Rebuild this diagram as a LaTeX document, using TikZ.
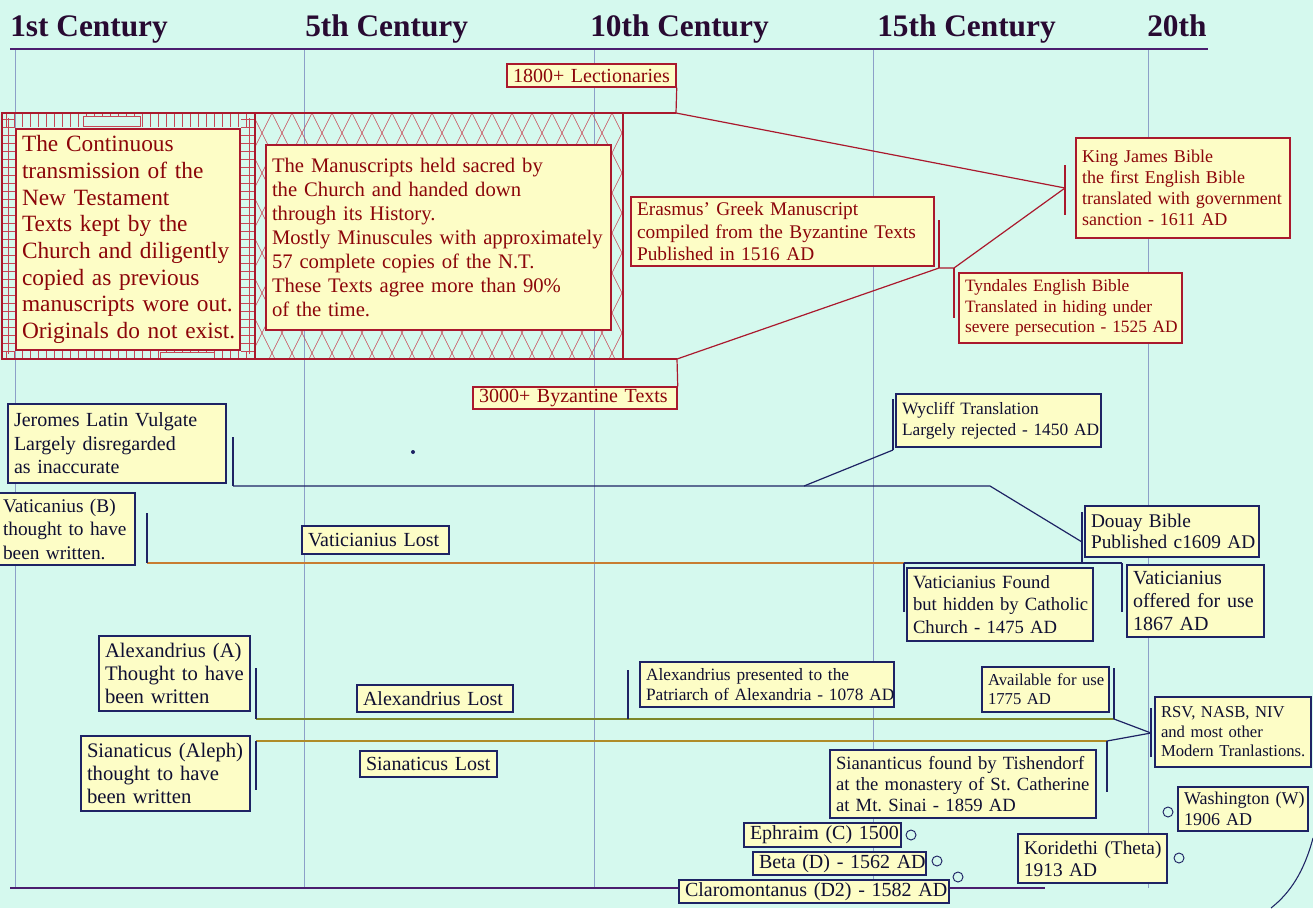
\documentclass[tikz,border=0pt]{standalone}
\usepackage{fontspec}
\setmainfont{Liberation Serif}
\usetikzlibrary{calc}
\frenchspacing
\definecolor{bg}{RGB}{213,249,238}
\definecolor{boxfill}{RGB}{253,253,198}
\definecolor{redln}{RGB}{170,25,45}
\definecolor{redtext}{RGB}{140,5,10}
\definecolor{navy}{RGB}{30,35,100}
\definecolor{bluetext}{RGB}{15,15,50}
\definecolor{hatchc}{RGB}{200,70,85}
\definecolor{gridc}{RGB}{140,160,200}
\definecolor{axisc}{RGB}{75,30,110}
\definecolor{hdrc}{RGB}{40,10,50}
\definecolor{vatc}{RGB}{200,125,50}
\definecolor{alexc}{RGB}{125,135,40}
\definecolor{sinc}{RGB}{175,140,40}
\newcommand\fs[2]{\fontsize{#1}{#2}\selectfont}
\newcommand\bx[7]{%
  \pgfmathsetmacro\bxw{(#5-#3)*0.75}%
  \pgfmathsetmacro\bxh{(#6-#4)*0.75}%
  \pgfmathsetmacro\bxtw{(#5-#3)*0.75-9}%
  \node[#2, minimum width=\bxw pt, minimum height=\bxh pt, text width=\bxtw pt] (#1) at ({(#3+#5)/2},{(#4+#6)/2}) {#7};%
}
\tikzset{
  rbox/.style={draw=redln, fill=boxfill, text=redtext, line width=1.1pt, align=left, inner xsep=4.5pt, inner ysep=1pt},
  bbox/.style={draw=navy, fill=boxfill, text=bluetext, line width=1.1pt, align=left, inner xsep=4.5pt, inner ysep=1pt},
  tickln/.style={line width=0.8pt},
  conn/.style={line width=0.9pt},
  hatch/.style={draw=hatchc, line width=0.45pt},
  gridln/.style={draw=gridc, line width=0.5pt},
  axisln/.style={draw=axisc, line width=1.6pt},
  hdr/.style={font=\bfseries\fs{23.5}{28}, text=hdrc, anchor=base west, inner sep=0pt},
  ring/.style={draw=navy, line width=0.7pt, circle, minimum size=7.5pt, inner sep=0pt},
}
\begin{document}
\begin{tikzpicture}[x=0.75pt,y=-0.75pt]
\useasboundingbox (0,0) rectangle (1313,908);
\fill[bg] (0,0) rectangle (1313,908);
% grid lines
\foreach \gx in {15,304,594,873,1148} {\draw[gridln] (\gx,49) -- (\gx,888);}
% axes
\draw[axisln] (10,49) -- (1208,49);
\draw[axisln] (10,888) -- (1045,888);
% headers
\node[hdr] (h1) at (10,36) {1st Century};
\node[hdr] (h5) at (305,36) {5th Century};
\node[hdr] (h10) at (590,36) {10th Century};
\node[hdr] (h15) at (877,36) {15th Century};
\node[hdr] (h20) at (1147,36) {20th};
% hatched region
\begin{scope}
\clip (255,113) rectangle (623,359);
\foreach \i in {0,...,42} {
  \draw[hatch] ({132+20*\i},113) -- ++(123,246);
  \draw[hatch] ({132+20*\i},113) -- ++(-123,246);
}
\end{scope}
\foreach \x in {6,14,...,250} {\draw[hatch] (\x,113) -- (\x,127); \draw[hatch] (\x,351) -- (\x,359);}
\foreach \y in {119,127,...,351} {\draw[hatch] (2,\y) -- (15,\y); \draw[hatch] (241,\y) -- (255,\y);}
\fill[bg] (83,116) rectangle (140,126);
\draw[hatch] (83,116) rectangle (140,126);
\fill[bg] (160,352) rectangle (214,358);
\draw[hatch] (160,352) rectangle (214,358);
\draw[hatch] (8,118) -- (8,354);
\draw[hatch] (249,118) -- (249,354);
\draw[redln, line width=0.9pt] (2,113) rectangle (623,359);
\draw[redln, line width=0.9pt] (255,113) -- (255,359);
% coordinates
\coordinate (lectc) at (676,113);
\coordinate (hrtop) at (623,113);
\coordinate (kjt1) at (1065,165);
\coordinate (kjt2) at (1065,215);
\coordinate (kjm) at (1065,188);
\coordinate (ert1) at (939,220);
\coordinate (ert2) at (939,268);
\coordinate (tyt1) at (954,268);
\coordinate (tyt2) at (954,318);
\coordinate (byzc) at (677,359);
\coordinate (hrbot) at (623,359);
\coordinate (jt1) at (233,437);
\coordinate (jt2) at (233,486);
\coordinate (jbend) at (990,486);
\coordinate (dm) at (1082,542);
\coordinate (dt1) at (1082,512);
\coordinate (dt2) at (1082,562);
\coordinate (wj) at (804,486);
\coordinate (wt1) at (893,399);
\coordinate (wt2) at (893,450);
\coordinate (vt1) at (147,513);
\coordinate (vt2) at (147,563);
\coordinate (vf) at (904,563);
\coordinate (vf2) at (904,612);
\coordinate (vo) at (1122,563);
\coordinate (vo2) at (1122,612);
\coordinate (at1) at (256,668);
\coordinate (at2) at (256,719);
\coordinate (ap1) at (628,670);
\coordinate (ap2) at (628,719);
\coordinate (av1) at (1114,668);
\coordinate (av2) at (1114,719);
\coordinate (rm) at (1151,733);
\coordinate (rt1) at (1151,708);
\coordinate (rt2) at (1151,757);
\coordinate (st1) at (256,741);
\coordinate (st2) at (256,790);
\coordinate (sf1) at (1107,741);
\coordinate (sf2) at (1107,792);
\coordinate (cv1) at (1313,838);
\coordinate (cv2) at (1271,908);
% red boxes
\bx{lect}{rbox,font=\fs{15}{17}}{507}{64}{676}{87}{\mbox{1800+ Lectionaries}}
\bx{byz}{rbox,font=\fs{15}{17}}{473}{387}{677}{409}{\mbox{3000+ Byzantine Texts}}
\bx{cont}{rbox,font=\fs{17.5}{20}}{16}{129}{240}{350}{\mbox{The Continuous}\\\mbox{transmission of the}\\\mbox{New Testament}\\\mbox{Texts kept by the}\\\mbox{Church and diligently}\\\mbox{copied as previous}\\\mbox{manuscripts wore out.}\\\mbox{Originals do not exist.}}
\bx{manu}{rbox,font=\fs{15.5}{18}}{266}{145}{611}{330}{\mbox{The Manuscripts held sacred by}\\\mbox{the Church and handed down}\\\mbox{through its History.}\\\mbox{Mostly Minuscules with approximately}\\\mbox{57 complete copies of the N.T.}\\\mbox{These Texts agree more than 90\%}\\\mbox{of the time.}}
\bx{eras}{rbox,font=\fs{14.5}{17}}{631}{197}{934}{266}{\mbox{Erasmus' Greek Manuscript}\\\mbox{compiled from the Byzantine Texts}\\\mbox{Published in 1516 AD}}
\bx{tynd}{rbox,font=\fs{13}{15.4}}{959}{273}{1182}{343}{\mbox{Tyndales English Bible}\\\mbox{Translated in hiding under}\\\mbox{severe persecution - 1525 AD}}
\bx{kjb}{rbox,font=\fs{13.5}{15.8}}{1076}{138}{1290}{238}{\mbox{King James Bible}\\\mbox{the first English Bible}\\\mbox{translated with government}\\\mbox{sanction - 1611 AD}}
% red connectors
\draw[conn, redln] (lect.south east) -- (lectc) -- (kjm);
\draw[conn, redln] (hrtop) -- (lectc);
\draw[conn, redln] (byz.north east) -- (byzc) -- (ert2) -- (tyt1) -- (kjm);
\draw[conn, redln] (hrbot) -- (byzc);
\draw[tickln, redln] (kjt1) -- (kjt2);
\draw[tickln, redln] (ert1) -- (ert2);
\draw[tickln, redln] (tyt1) -- (tyt2);
% blue connectors
\draw[conn, navy] (jt2) -- (jbend) -- (dm);
\draw[conn, navy] (wj) -- (wt2);
\draw[tickln, navy] (jt1) -- (jt2);
\draw[tickln, navy] (wt1) -- (wt2);
\draw[tickln, navy] (dt1) -- (dt2);
\draw[conn, vatc] (vt2) -- (vf);
\draw[conn, navy] (vf) -- (vo);
\draw[tickln, navy] (vt1) -- (vt2);
\draw[tickln, navy] (vf) -- (vf2);
\draw[tickln, navy] (vo) -- (vo2);
\draw[conn, alexc] (at2) -- (av2);
\draw[conn, navy] (av2) -- (rm);
\draw[tickln, navy] (at1) -- (at2);
\draw[tickln, navy] (ap1) -- (ap2);
\draw[tickln, navy] (av1) -- (av2);
\draw[tickln, navy] (rt1) -- (rt2);
\draw[conn, sinc] (st1) -- (sf1);
\draw[conn, navy] (sf1) -- (rm);
\draw[tickln, navy] (st1) -- (st2);
\draw[tickln, navy] (sf1) -- (sf2);
\draw[navy, line width=0.8pt] (cv1) .. controls (1304,872) and (1290,893) .. (cv2);
\node[circle, fill=navy, inner sep=0pt, minimum size=3pt] (dot) at (413,452) {};
% blue boxes
\bx{jer}{bbox,font=\fs{15}{17.6}}{8}{404}{226}{483}{\mbox{Jeromes Latin Vulgate}\\\mbox{Largely disregarded}\\\mbox{as inaccurate}}
\bx{vatb}{bbox,font=\fs{14.5}{17.6},inner xsep=3pt}{-3}{493}{135}{565}{\mbox{Vaticanius (B)}\\\mbox{thought to have}\\\mbox{been written.}}
\bx{vlost}{bbox,font=\fs{15}{17}}{302}{526}{449}{554}{\mbox{Vaticianius Lost}}
\bx{wyc}{bbox,font=\fs{13}{15.8}}{896}{394}{1101}{447}{\mbox{Wycliff Translation}\\\mbox{Largely rejected - 1450 AD}}
\bx{douay}{bbox,font=\fs{14.5}{16}}{1085}{506}{1259}{557}{\mbox{Douay Bible}\\\mbox{Published c1609 AD}}
\bx{vfound}{bbox,font=\fs{14}{17}}{907}{568}{1093}{641}{\mbox{Vaticianius Found}\\\mbox{but hidden by Catholic}\\\mbox{Church - 1475 AD}}
\bx{voffer}{bbox,font=\fs{15}{17}}{1127}{565}{1264}{637}{\mbox{Vaticianius}\\\mbox{offered for use}\\\mbox{1867 AD}}
\bx{alexa}{bbox,font=\fs{15.5}{17}}{99}{636}{250}{711}{\mbox{Alexandrius (A)}\\\mbox{Thought to have}\\\mbox{been written}}
\bx{alost}{bbox,font=\fs{15}{17}}{357}{685}{513}{712}{\mbox{Alexandrius Lost}}
\bx{sina}{bbox,font=\fs{15.5}{17}}{81}{736}{250}{811}{\mbox{Sianaticus (Aleph)}\\\mbox{thought to have}\\\mbox{been written}}
\bx{slost}{bbox,font=\fs{15}{17}}{360}{751}{497}{777}{\mbox{Sianaticus Lost}}
\bx{apres}{bbox,font=\fs{13}{15}}{640}{662}{894}{707}{\mbox{Alexandrius presented to the}\\\mbox{Patriarch of Alexandria - 1078 AD}}
\bx{avail}{bbox,font=\fs{12.5}{14}}{982}{667}{1109}{712}{\mbox{Available for use}\\\mbox{1775 AD}}
\bx{rsv}{bbox,font=\fs{12.5}{14.6}}{1155}{697}{1311}{767}{\mbox{RSV, NASB, NIV}\\\mbox{and most other}\\\mbox{Modern Tranlastions.}}
\bx{sfound}{bbox,font=\fs{14}{15.8}}{830}{750}{1096}{818}{\mbox{Siananticus found by Tishendorf}\\\mbox{at the monastery of St. Catherine}\\\mbox{at Mt. Sinai - 1859 AD}}
\bx{ephr}{bbox,font=\fs{15}{17}}{744}{823}{901}{847}{\mbox{Ephraim (C) 1500}}
\bx{beta}{bbox,font=\fs{15}{17}}{753}{852}{926}{875}{\mbox{Beta (D) - 1562 AD}}
\bx{claro}{bbox,font=\fs{15}{17}}{679}{880}{949}{903}{\mbox{Claromontanus (D2) - 1582 AD}}
\bx{kori}{bbox,font=\fs{14.5}{16.5}}{1018}{834}{1167}{883}{\mbox{Koridethi (Theta)}\\\mbox{1913 AD}}
\bx{wash}{bbox,font=\fs{13.5}{15.5}}{1178}{787}{1308}{831}{\mbox{Washington (W)}\\\mbox{1906 AD}}
% rings
\node[ring] (ephrc) at (911,835) {};
\node[ring] (betac) at (937,861) {};
\node[ring] (claroc) at (958,877) {};
\node[ring] (koric) at (1179,858) {};
\node[ring] (washc) at (1168,812) {};
\end{tikzpicture}
\end{document}
